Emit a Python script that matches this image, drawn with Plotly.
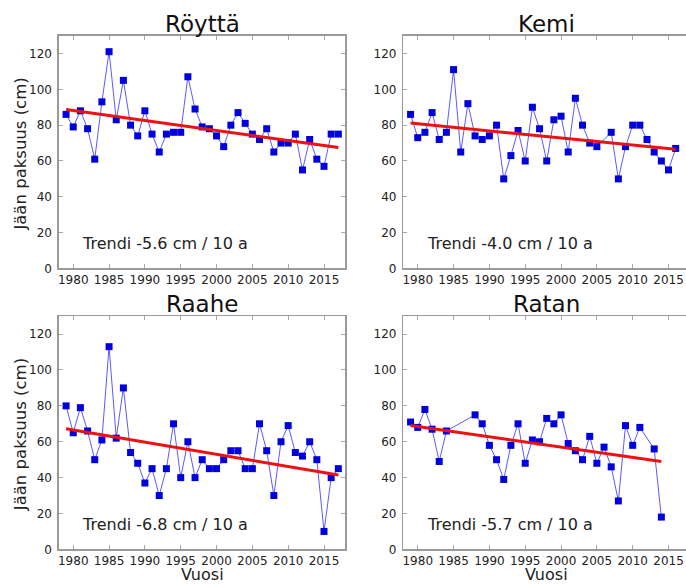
import plotly.graph_objects as go
import numpy as np

# ---------------- data ----------------
years_royt = list(range(1979, 2018))
royt = [86, 79, 88, 78, 61, 93, 121, 83, 105, 80, 74, 88, 75, 65, 75, 76, 76, 107, 89, 79,
        78, 74, 68, 80, 87, 81, 75, 72, 78, 65, 70, 70, 75, 55, 72, 61, 57, 75, 75]

years_kemi = [y for y in range(1979, 2017) if y != 2006]
kemi = [86, 73, 76, 87, 72, 76, 111, 65, 92, 74, 72, 74, 80, 50, 63, 77, 60, 90, 78, 60,
        83, 85, 65, 95, 80, 70, 68, 76, 50, 68, 80, 80, 72, 65, 60, 55, 67]

years_raahe = list(range(1979, 2018))
raahe = [80, 65, 79, 66, 50, 61, 113, 62, 90, 54, 48, 37, 45, 30, 45, 70, 40, 60, 40, 50,
         45, 45, 50, 55, 55, 45, 45, 70, 55, 30, 60, 69, 54, 52, 60, 50, 10, 40, 45]

years_ratan = [1979, 1980, 1981, 1982, 1983, 1984, 1988, 1989, 1990, 1991, 1992, 1993, 1994,
               1995, 1996, 1997, 1998, 1999, 2000, 2001, 2002, 2003, 2004, 2005, 2006, 2007,
               2008, 2009, 2010, 2011, 2013, 2014]
ratan = [71, 68, 78, 67, 49, 66, 75, 70, 58, 50, 39, 58, 70, 48, 61, 60, 73, 70, 75, 59,
         55, 50, 63, 48, 57, 46, 27, 69, 58, 68, 56, 18]

stations = ["Röyttä", "Kemi", "Raahe", "Ratan"]
trend_labels = ["Trendi -5.6 cm / 10 a", "Trendi -4.0 cm / 10 a",
                "Trendi -6.8 cm / 10 a", "Trendi -5.7 cm / 10 a"]
x_ticks = [1980, 1985, 1990, 1995, 2000, 2005, 2010, 2015]
y_ticks = [0, 20, 40, 60, 80, 100, 120]
x_title = "Vuosi"
y_title = "Jään paksuus (cm)"

series = [(years_royt, royt), (years_kemi, kemi), (years_raahe, raahe), (years_ratan, ratan)]

# ---------------- layout geometry ----------------
W, H = 686, 587
def px_x(p):
    return p / W
def px_y(p):
    return 1 - p / H

x_left = [px_x(58), px_x(345)]
x_right = [px_x(403), 1.0]
y_top = [px_y(271.7), px_y(36)]
y_bot = [px_y(556), px_y(320)]
domains = [(x_left, y_top), (x_right, y_top), (x_left, y_bot), (x_right, y_bot)]
xranges = [[1978, 2018], [1978, 2017.44], [1978, 2018], [1978, 2017.44]]

FONT = "DejaVu Sans"
fig = go.Figure()
annotations = []

for i, ((yrs, vals), name) in enumerate(zip(series, stations)):
    k = "" if i == 0 else str(i + 1)
    xa, ya = "x" + k, "y" + k
    fig.add_trace(go.Scatter(
        x=yrs, y=vals, mode="lines+markers", xaxis=xa, yaxis=ya,
        line=dict(color="rgba(0,0,255,0.65)", width=1),
        marker=dict(symbol="square", size=7, color="#0000dd"),
        showlegend=False, cliponaxis=False))
    coef = np.polyfit(yrs, vals, 1)
    tx = [min(yrs), max(yrs)]
    ty = list(np.polyval(coef, tx))
    fig.add_trace(go.Scatter(
        x=tx, y=ty, mode="lines", xaxis=xa, yaxis=ya,
        line=dict(color="#ee1111", width=3), showlegend=False))

    dx, dy = domains[i]
    right_panel = i in (1, 3)
    fig.layout["xaxis" + k] = dict(
        domain=dx, range=xranges[i], anchor=ya, tickvals=x_ticks,
        ticks="inside", ticklen=4, tickcolor="#aaaaaa", showline=True,
        linecolor="#9a9a9a", linewidth=1.5, mirror="ticks", showgrid=False,
        zeroline=False, tickfont=dict(family=FONT, size=12, color="#222222"),
        ticklabelstandoff=0)
    fig.layout["yaxis" + k] = dict(
        domain=dy, range=[0, 130], anchor=xa, tickvals=y_ticks,
        ticks="inside", ticklen=4, tickcolor="#aaaaaa", showline=True,
        linecolor="#9a9a9a", linewidth=1.5, mirror=False if right_panel else "ticks",
        showgrid=False, zeroline=False,
        tickfont=dict(family=FONT, size=12, color="#222222"), ticklabelstandoff=3)

    # station title
    xc = (dx[0] + (px_x(689) if right_panel else dx[1])) / 2
    title_y = px_y(24) if i < 2 else px_y(308)
    annotations.append(dict(text=name, x=xc, y=title_y, xref="paper", yref="paper",
                            xanchor="center", yanchor="middle", showarrow=False,
                            font=dict(family=FONT, size=23, color="#111111")))
    # trend text
    annotations.append(dict(text=trend_labels[i], x=1981, y=14, xref=xa, yref=ya,
                            xanchor="left", yanchor="middle", showarrow=False,
                            font=dict(family=FONT, size=16, color="#222222")))

# axis titles
for yc in (px_y(156), px_y(440)):
    annotations.append(dict(text=y_title, x=px_x(19.5), y=yc,
                            xref="paper", yref="paper", textangle=-90,
                            xanchor="center", yanchor="middle", showarrow=False,
                            font=dict(family=FONT, size=16.5, color="#222222")))
for xc in ((x_left[0] + x_left[1]) / 2, (x_right[0] + px_x(689)) / 2):
    annotations.append(dict(text=x_title, x=xc, y=px_y(581.5), xref="paper", yref="paper",
                            xanchor="center", yanchor="middle", showarrow=False,
                            font=dict(family=FONT, size=16, color="#222222")))

fig.update_layout(width=W, height=H, margin=dict(l=0, r=0, t=0, b=0),
                  paper_bgcolor="white", plot_bgcolor="white",
                  annotations=annotations, font=dict(family=FONT))
# remove the browser's default 8px page margin so the figure fills the window exactly
fig.write_html("out.html",
               config={"displayModeBar": False, "staticPlot": True},
               post_script="document.body.style.margin='0';"
                           "document.body.style.overflow='hidden';")
